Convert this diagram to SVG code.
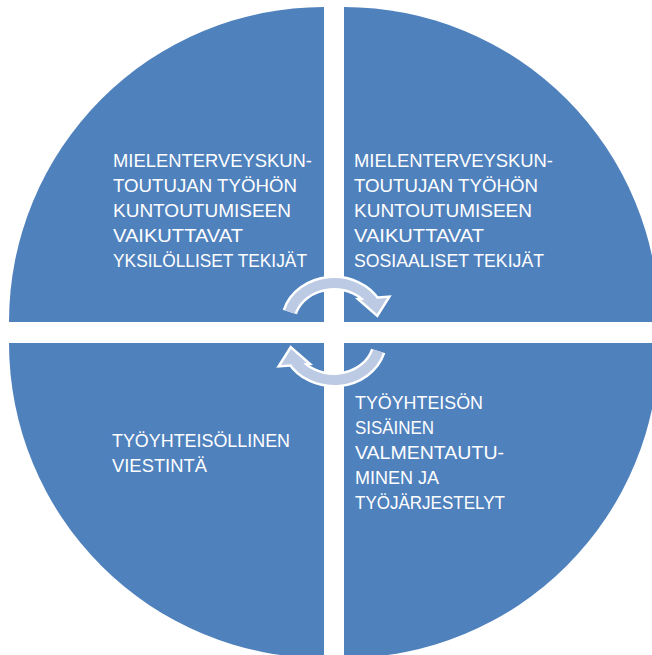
<svg xmlns="http://www.w3.org/2000/svg" xmlns:xlink="http://www.w3.org/1999/xlink" width="652" height="655" viewBox="0 0 652 655">
  <style>
    .quad { fill: #4f81bd; }
    .lbl { font-family: "Liberation Sans", Arial, sans-serif; font-size: 18px; fill: #ffffff; }
    .band-w { fill: none; stroke: #ffffff; stroke-width: 15; }
    .band-l { fill: none; stroke: #bccae3; stroke-width: 10; }
    .head-w { fill: #ffffff; stroke: #ffffff; stroke-width: 5; stroke-linejoin: miter; }
    .head-l { fill: #bccae3; }
  </style>
  <defs>
    <g id="cyc-arrow">
      <path class="band-w" d="M 289.8 312 A 46 40 0 0 1 374.6 304.2"/>
      <polygon class="head-w" points="361,300 387,298 377,314"/>
      <path class="band-l" d="M 289.8 312 A 46 40 0 0 1 374.6 304.2"/>
      <polygon class="head-l" points="361,300 387,298 377,314"/>
    </g>
  </defs>

  <g id="node-yksilolliset">
    <path class="quad" d="M 324 322 H 9 A 315 315 0 0 1 324 7 Z"/>
    <text class="lbl" x="113" y="167" textLength="199" lengthAdjust="spacingAndGlyphs">MIELENTERVEYSKUN-</text>
    <text class="lbl" x="113" y="192" textLength="184" lengthAdjust="spacingAndGlyphs">TOUTUJAN TYÖHÖN</text>
    <text class="lbl" x="113" y="217" textLength="178" lengthAdjust="spacingAndGlyphs">KUNTOUTUMISEEN</text>
    <text class="lbl" x="113" y="242" textLength="130" lengthAdjust="spacingAndGlyphs">VAIKUTTAVAT</text>
    <text class="lbl" x="113" y="267" textLength="194" lengthAdjust="spacingAndGlyphs">YKSILÖLLISET TEKIJÄT</text>
  </g>

  <g id="node-sosiaaliset">
    <path class="quad" d="M 344 322 V 7 A 315 315 0 0 1 659 322 Z"/>
    <text class="lbl" x="354" y="167" textLength="199" lengthAdjust="spacingAndGlyphs">MIELENTERVEYSKUN-</text>
    <text class="lbl" x="354" y="192" textLength="184" lengthAdjust="spacingAndGlyphs">TOUTUJAN TYÖHÖN</text>
    <text class="lbl" x="354" y="217" textLength="178" lengthAdjust="spacingAndGlyphs">KUNTOUTUMISEEN</text>
    <text class="lbl" x="354" y="242" textLength="130" lengthAdjust="spacingAndGlyphs">VAIKUTTAVAT</text>
    <text class="lbl" x="354" y="267" textLength="190" lengthAdjust="spacingAndGlyphs">SOSIAALISET TEKIJÄT</text>
  </g>

  <g id="node-viestinta">
    <path class="quad" d="M 324 343 V 658 A 315 315 0 0 1 9 343 Z"/>
    <text class="lbl" x="112" y="446.5" textLength="178" lengthAdjust="spacingAndGlyphs">TYÖYHTEISÖLLINEN</text>
    <text class="lbl" x="112" y="471.5" textLength="95" lengthAdjust="spacingAndGlyphs">VIESTINTÄ</text>
  </g>

  <g id="node-valmentautuminen">
    <path class="quad" d="M 344 343 H 659 A 315 315 0 0 1 344 658 Z"/>
    <text class="lbl" x="355" y="409" textLength="128" lengthAdjust="spacingAndGlyphs">TYÖYHTEISÖN</text>
    <text class="lbl" x="355" y="434" textLength="79" lengthAdjust="spacingAndGlyphs">SISÄINEN</text>
    <text class="lbl" x="355" y="459" textLength="149" lengthAdjust="spacingAndGlyphs">VALMENTAUTU-</text>
    <text class="lbl" x="355" y="484" textLength="84" lengthAdjust="spacingAndGlyphs">MINEN JA</text>
    <text class="lbl" x="355" y="509" textLength="150" lengthAdjust="spacingAndGlyphs">TYÖJÄRJESTELYT</text>
  </g>

  <g id="connectors">
    <use xlink:href="#cyc-arrow" href="#cyc-arrow"/>
    <use xlink:href="#cyc-arrow" href="#cyc-arrow" transform="rotate(180 334 331.5)"/>
  </g>
</svg>
